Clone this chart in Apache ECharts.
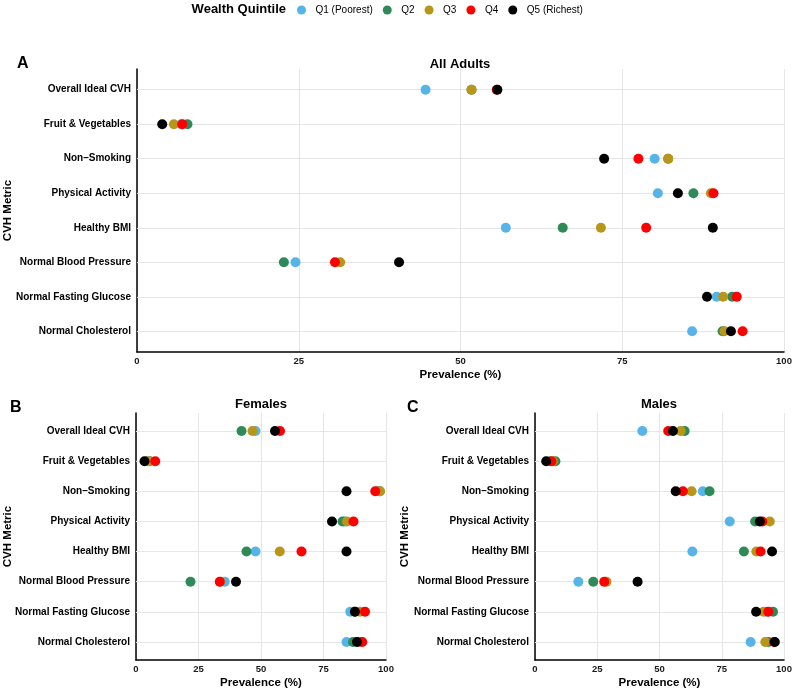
<!DOCTYPE html>
<html>
<head>
<meta charset="utf-8">
<title>Ideal CVH metrics by wealth quintile</title>
<script src="https://cdn.jsdelivr.net/npm/echarts@6/dist/echarts.min.js"></script>
<style>
    html, body { margin: 0; padding: 0; background: #fff; }
    #chart { width: 793px; height: 690px; }
</style>
</head>
<body>
<div id="chart"></div>
<script>
// 数据 ===============================================================
var metrics = ['Overall Ideal CVH', 'Fruit & Vegetables', 'Non\u2013Smoking', 'Physical Activity',
    'Healthy BMI', 'Normal Blood Pressure', 'Normal Fasting Glucose', 'Normal Cholesterol'];
var quintiles = ['Q1 (Poorest)', 'Q2', 'Q3', 'Q4', 'Q5 (Richest)'];
var quintileColors = ['#56B4E9', '#2E8B57', '#B8961A', '#FF0000', '#000000'];
var xTicks = [0, 25, 50, 75, 100];

// one row per quintile (Q1..Q5), one value per metric, prevalence %
var adults = [
    [44.6, 6.8, 80.0, 80.5, 57.0, 24.5, 89.6, 85.8],
    [51.7, 7.8, 82.1, 86.0, 65.8, 22.7, 92.0, 90.5],
    [51.7, 5.7, 82.1, 88.7, 71.7, 31.4, 90.6, 90.8],
    [55.6, 7.0, 77.5, 89.1, 78.7, 30.6, 92.7, 93.6],
    [55.7, 3.9, 72.2, 83.6, 89.0, 40.5, 88.1, 91.8]
];
var females = [
    [47.8, 4.5, 96.5, 83.5, 47.8, 35.5, 85.7, 84.2],
    [42.2, 5.5, 97.5, 82.6, 44.2, 21.8, 87.5, 86.8],
    [46.6, 5.1, 97.6, 84.4, 57.5, 33.7, 89.6, 89.2],
    [57.6, 7.7, 95.7, 87.0, 66.2, 33.5, 91.6, 90.5],
    [55.6, 3.4, 84.2, 78.4, 84.2, 40.0, 87.6, 88.4]
];
var males = [
    [43.1, 6.0, 67.4, 78.2, 63.2, 17.4, 93.0, 86.6],
    [60.1, 8.2, 70.1, 88.4, 83.9, 23.4, 95.6, 93.7],
    [58.5, 7.2, 62.9, 94.3, 88.9, 28.7, 91.8, 92.5],
    [53.5, 6.6, 59.4, 91.3, 90.6, 27.8, 93.7, 96.0],
    [55.4, 4.5, 56.5, 90.3, 95.2, 41.2, 88.8, 96.3]
];

var FONT = '"Liberation Sans", Arial, sans-serif';
var metricIdx = metrics.map(function(m, i) { return i; });

// 函数定义 ===============================================================
function makeXAxis(gi) {
    return {
        type: 'value', gridIndex: gi, min: 0, max: 100, interval: 25,
        name: 'Prevalence (%)', nameLocation: 'middle', nameGap: 17,
        nameTextStyle: { fontFamily: FONT, fontWeight: 'bold', fontSize: 11.5, color: '#000' },
        axisLine: { show: true, onZero: false, lineStyle: { color: '#000', width: 1.5 } },
        axisTick: { show: false },
        axisLabel: { margin: 4, fontFamily: FONT, fontWeight: 'bold', fontSize: 9.5, color: '#1a1a1a',
            customValues: xTicks },
        splitLine: { show: true, lineStyle: { color: '#e6e6e6', width: 1 } }
    };
}

function makeYAxis(gi, gap) {
    // metric index axis, ggplot style 0.6 expansion on each side
    return {
        type: 'value', gridIndex: gi, inverse: true, min: -0.6, max: metrics.length - 0.4,
        name: 'CVH Metric', nameLocation: 'middle', nameGap: gap, nameRotate: 90,
        nameMoveOverlap: false,
        nameTextStyle: { fontFamily: FONT, fontWeight: 'bold', fontSize: 11.5, color: '#000' },
        axisLine: { show: true, lineStyle: { color: '#000', width: 1.5 } },
        axisTick: { show: false, customValues: metricIdx },
        axisLabel: {
            margin: 6, fontFamily: FONT, fontWeight: 'bold', fontSize: 10, color: '#000',
            customValues: metricIdx,
            formatter: function(v) { return metrics[Math.round(v)] || ''; }
        },
        splitLine: { show: false }
    };
}

function panelSeries(gi, rows) {
    var list = [];
    // horizontal grid lines at each metric
    list.push({
        type: 'scatter', xAxisIndex: gi, yAxisIndex: gi, data: [], silent: true,
        markLine: {
            z: 1, silent: true, symbol: ['none', 'none'], animation: false,
            label: { show: false },
            lineStyle: { color: '#e6e6e6', width: 1, type: 'solid' },
            emphasis: { disabled: true },
            data: metricIdx.map(function(i) { return { yAxis: i }; })
        }
    });
    rows.forEach(function(vals, q) {
        list.push({
            name: quintiles[q], type: 'scatter', xAxisIndex: gi, yAxisIndex: gi,
            symbol: 'circle', symbolSize: 10, z: 3,
            itemStyle: { color: quintileColors[q], opacity: 1 },
            data: vals.map(function(v, i) { return [v, i]; })
        });
    });
    return list;
}

function txt(x, y, s, size, align) {
    return {
        type: 'text', x: x, y: y,
        style: { text: s, fontFamily: FONT, fontWeight: 'bold', fontSize: size, fill: '#000',
            textAlign: align || 'center', textVerticalAlign: 'middle' }
    };
}

var chart = echarts.init(document.getElementById('chart'), null, { renderer: 'canvas' });

var option = {
    animation: false,
    backgroundColor: '#fff',
    legend: {
        left: 292, top: 0, icon: 'circle', itemWidth: 18, itemHeight: 9, itemGap: 10,
        data: quintiles,
        textStyle: { fontFamily: FONT, fontSize: 10, color: '#000' }
    },
    grid: [
        { left: 137, top: 69, width: 647, height: 283, outerBoundsMode: 'none', containLabel: false },
        { left: 136, top: 413, width: 250, height: 247, outerBoundsMode: 'none', containLabel: false },
        { left: 535, top: 413, width: 249, height: 247, outerBoundsMode: 'none', containLabel: false }
    ],
    xAxis: [makeXAxis(0), makeXAxis(1), makeXAxis(2)],
    yAxis: [makeYAxis(0, 123), makeYAxis(1, 122), makeYAxis(2, 124)],
    series: [].concat(panelSeries(0, adults), panelSeries(1, females), panelSeries(2, males)),
    graphic: [
        txt(286, 9, 'Wealth Quintile', 13, 'right'),
        txt(17, 64, 'A', 16, 'left'),
        txt(460, 64, 'All Adults', 13),
        txt(10, 408, 'B', 16, 'left'),
        txt(261, 404, 'Females', 13),
        txt(407, 408, 'C', 16, 'left'),
        txt(659, 404, 'Males', 13)
    ]
};

chart.setOption(option);
</script>
</body>
</html>
